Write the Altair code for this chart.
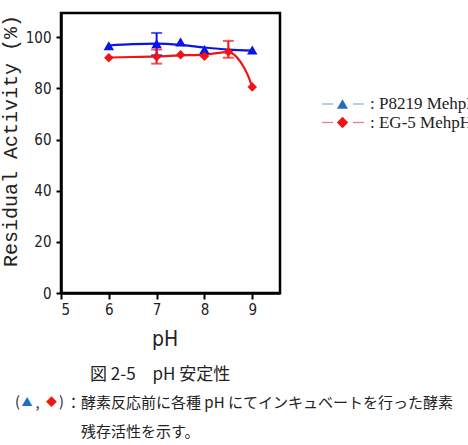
import altair as alt
import pandas as pd

# ---- data ----
ph_blue = [6, 7, 7.5, 8, 9]
act_blue = [96.7, 97.5, 98.2, 95.2, 95.0]
ph_red = [6, 7, 7.5, 8, 8.5, 9]
act_red = [92.0, 92.4, 93.2, 92.6, 94.3, 80.6]

# fitted curves
curve_blue_ph = [6, 6.5, 7, 7.5, 8, 8.5, 9]
curve_blue_val = [96.8, 97.3, 97.5, 97.0, 96.0, 95.2, 94.8]
curve_red_ph = [6, 6.5, 7, 7.5, 8, 8.5, 8.75, 8.9, 9]
curve_red_val = [92.1, 92.3, 92.5, 92.9, 93.2, 94.2, 90.5, 85.5, 80.6]

# error bars
err_ph = [7, 7, 8.5]
err_lo = [93.0, 89.7, 92.0]
err_hi = [101.7, 95.2, 98.6]
err_series = ["P8219", "EG-5", "EG-5"]

x_ticks = [5, 6, 7, 8, 9]
y_ticks = [0, 20, 40, 60, 80, 100]

BLUE = "#0a14e6"
RED = "#f01414"
colors = alt.Scale(domain=["P8219", "EG-5"], range=[BLUE, RED])

pts = pd.DataFrame({
    "ph": ph_blue + ph_red,
    "act": act_blue + act_red,
    "series": ["P8219"] * len(ph_blue) + ["EG-5"] * len(ph_red),
})
curves = pd.DataFrame({
    "ph": curve_blue_ph + curve_red_ph,
    "act": curve_blue_val + curve_red_val,
    "series": ["P8219"] * len(curve_blue_ph) + ["EG-5"] * len(curve_red_ph),
})
errs = pd.DataFrame({"ph": err_ph, "lo": err_lo, "hi": err_hi, "series": err_series})

xs = alt.Scale(domain=[5, 9.58], nice=False, zero=False)
ys = alt.Scale(domain=[0, 109.5], nice=False)

LBL_FONT = "DejaVu Sans Condensed, Liberation Sans Narrow, Roboto Condensed, sans-serif"

X = alt.X("ph:Q", scale=xs, axis=alt.Axis(values=x_ticks, title=None, grid=False,
          domainColor="black", domainWidth=2.5, tickColor="black", tickWidth=2,
          tickSize=6, labelFont=LBL_FONT, labelFontSize=15, labelColor="#222",
          labelPadding=3, format="d"))
Y = alt.Y("act:Q", scale=ys, axis=alt.Axis(values=y_ticks, title=None, grid=False,
          domainColor="black", domainWidth=2.5, tickColor="black", tickWidth=2,
          tickSize=5, labelFont=LBL_FONT, labelFontSize=15, labelColor="#222",
          labelPadding=5, format="d"))

line = alt.Chart(curves).mark_line(interpolate="monotone", strokeWidth=2.2).encode(
    x=X, y=Y, color=alt.Color("series:N", scale=colors, legend=None), detail="series:N")

rules = alt.Chart(errs).mark_rule(strokeWidth=2).encode(
    x=alt.X("ph:Q", scale=xs), y=alt.Y("lo:Q", scale=ys), y2="hi:Q",
    color=alt.Color("series:N", scale=colors, legend=None))
cap_lo = alt.Chart(errs).mark_tick(orient="horizontal", size=11, thickness=2).encode(
    x=alt.X("ph:Q", scale=xs), y=alt.Y("lo:Q", scale=ys),
    color=alt.Color("series:N", scale=colors, legend=None))
cap_hi = alt.Chart(errs).mark_tick(orient="horizontal", size=11, thickness=2).encode(
    x=alt.X("ph:Q", scale=xs), y=alt.Y("hi:Q", scale=ys),
    color=alt.Color("series:N", scale=colors, legend=None))

tri = alt.Chart(pts[pts.series == "P8219"]).mark_point(
    shape="triangle-up", filled=True, size=110, opacity=1, color=BLUE).encode(
    x=alt.X("ph:Q", scale=xs), y=alt.Y("act:Q", scale=ys))
dia = alt.Chart(pts[pts.series == "EG-5"]).mark_point(
    shape="diamond", filled=True, size=90, opacity=1, color=RED).encode(
    x=alt.X("ph:Q", scale=xs), y=alt.Y("act:Q", scale=ys))

# ---- texts (titles, legend, caption) ----
y_title = ["Residual Activity (%)"]
x_title = ["pH"]
legend_labels = [": P8219 MehpH", ": EG-5 MehpH"]
caption_1 = ["図 2-5\u3000pH 安定性"]
caption_2 = ["：酵素反応前に各種 pH にてインキュベートを行った酵素"]
caption_3 = ["残存活性を示す。"]

def txt(s, x, y, **kw):
    return alt.Chart(pd.DataFrame({"t": s})).mark_text(**kw).encode(
        text="t:N", x=alt.value(x), y=alt.value(y))

base_dx = -61
base_dy = -13

CJK = "Noto Sans CJK JP"
texts = [
    txt(y_title, 11 + base_dx, 141 + base_dy, angle=270, font="Liberation Mono",
        fontSize=20, align="center", baseline="middle", color="#222"),
    txt(x_title, 165 + base_dx, 340 + base_dy, font=LBL_FONT, fontSize=21,
        align="center", baseline="middle", color="#222"),
    # legend
    txt([legend_labels[0]], 370 + base_dx, 104 + base_dy, font="Liberation Serif",
        fontSize=17, align="left", baseline="middle", color="#222"),
    txt([legend_labels[1]], 370 + base_dx, 122.5 + base_dy, font="Liberation Serif",
        fontSize=17, align="left", baseline="middle", color="#222"),
    # caption
    txt(caption_1, 90 + base_dx, 375 + base_dy, font=CJK,
        fontSize=17, align="left", baseline="middle", color="#222"),
    txt(["("], 15 + base_dx, 403 + base_dy, font=CJK,
        fontSize=14.5, align="left", baseline="middle", color="#222"),
    txt(["▲"], 27 + base_dx, 403 + base_dy, font=CJK,
        fontSize=11, align="center", baseline="middle", color="#1f6fc0"),
    txt([","], 37.5 + base_dx, 404 + base_dy, font=CJK,
        fontSize=14.5, align="center", baseline="middle", color="#222"),
    txt(["◆"], 51.5 + base_dx, 403 + base_dy, font=CJK,
        fontSize=11, align="center", baseline="middle", color=RED),
    txt([")"], 59 + base_dx, 403 + base_dy, font=CJK,
        fontSize=14.5, align="left", baseline="middle", color="#222"),
    txt(caption_2, 66 + base_dx, 403 + base_dy, font=CJK,
        fontSize=15, align="left", baseline="middle", color="#222"),
    txt(caption_3, 81 + base_dx, 431.5 + base_dy, font=CJK,
        fontSize=15, align="left", baseline="middle", color="#222"),
]

# legend swatches
legend_lines = pd.DataFrame({
    "x": [322, 353, 322, 353], "x2": [333, 364, 333, 364],
    "y": [104, 104, 122.5, 122.5], "c": ["#8fb4dc", "#8fb4dc", "#e88080", "#e88080"],
})
leg_rules = alt.Chart(legend_lines).mark_rule(strokeWidth=1.3).encode(
    x=alt.X("x:Q", scale=None), x2="x2:Q", y=alt.Y("y:Q", scale=None),
    color=alt.Color("c:N", scale=None))
leg_rules = leg_rules.transform_calculate(
    x=f"datum.x + ({base_dx})", x2=f"datum.x2 + ({base_dx})", y=f"datum.y + ({base_dy})")

leg_sym = [
    alt.Chart(pd.DataFrame({"s": ["a"]})).mark_point(shape="triangle-up", filled=True,
        size=120, opacity=1, color="#1f6fc0").encode(
        x=alt.value(342.5 + base_dx), y=alt.value(104 + base_dy)),
    alt.Chart(pd.DataFrame({"s": ["a"]})).mark_point(shape="diamond", filled=True,
        size=130, opacity=1, color=RED).encode(
        x=alt.value(342.5 + base_dx), y=alt.value(122.5 + base_dy)),
]

chart = alt.layer(line, rules, cap_lo, cap_hi, tri, dia, leg_rules, *leg_sym, *texts).properties(
    width=219, height=280,
    padding={"left": 61, "top": 13, "right": 188, "bottom": 152},
    autosize=alt.AutoSizeParams(type="none"),
    background="white",
).configure_view(stroke="black", strokeWidth=2.5).resolve_scale(color="independent")

chart.save("out.html", embed_options={"renderer": "svg", "actions": False})
